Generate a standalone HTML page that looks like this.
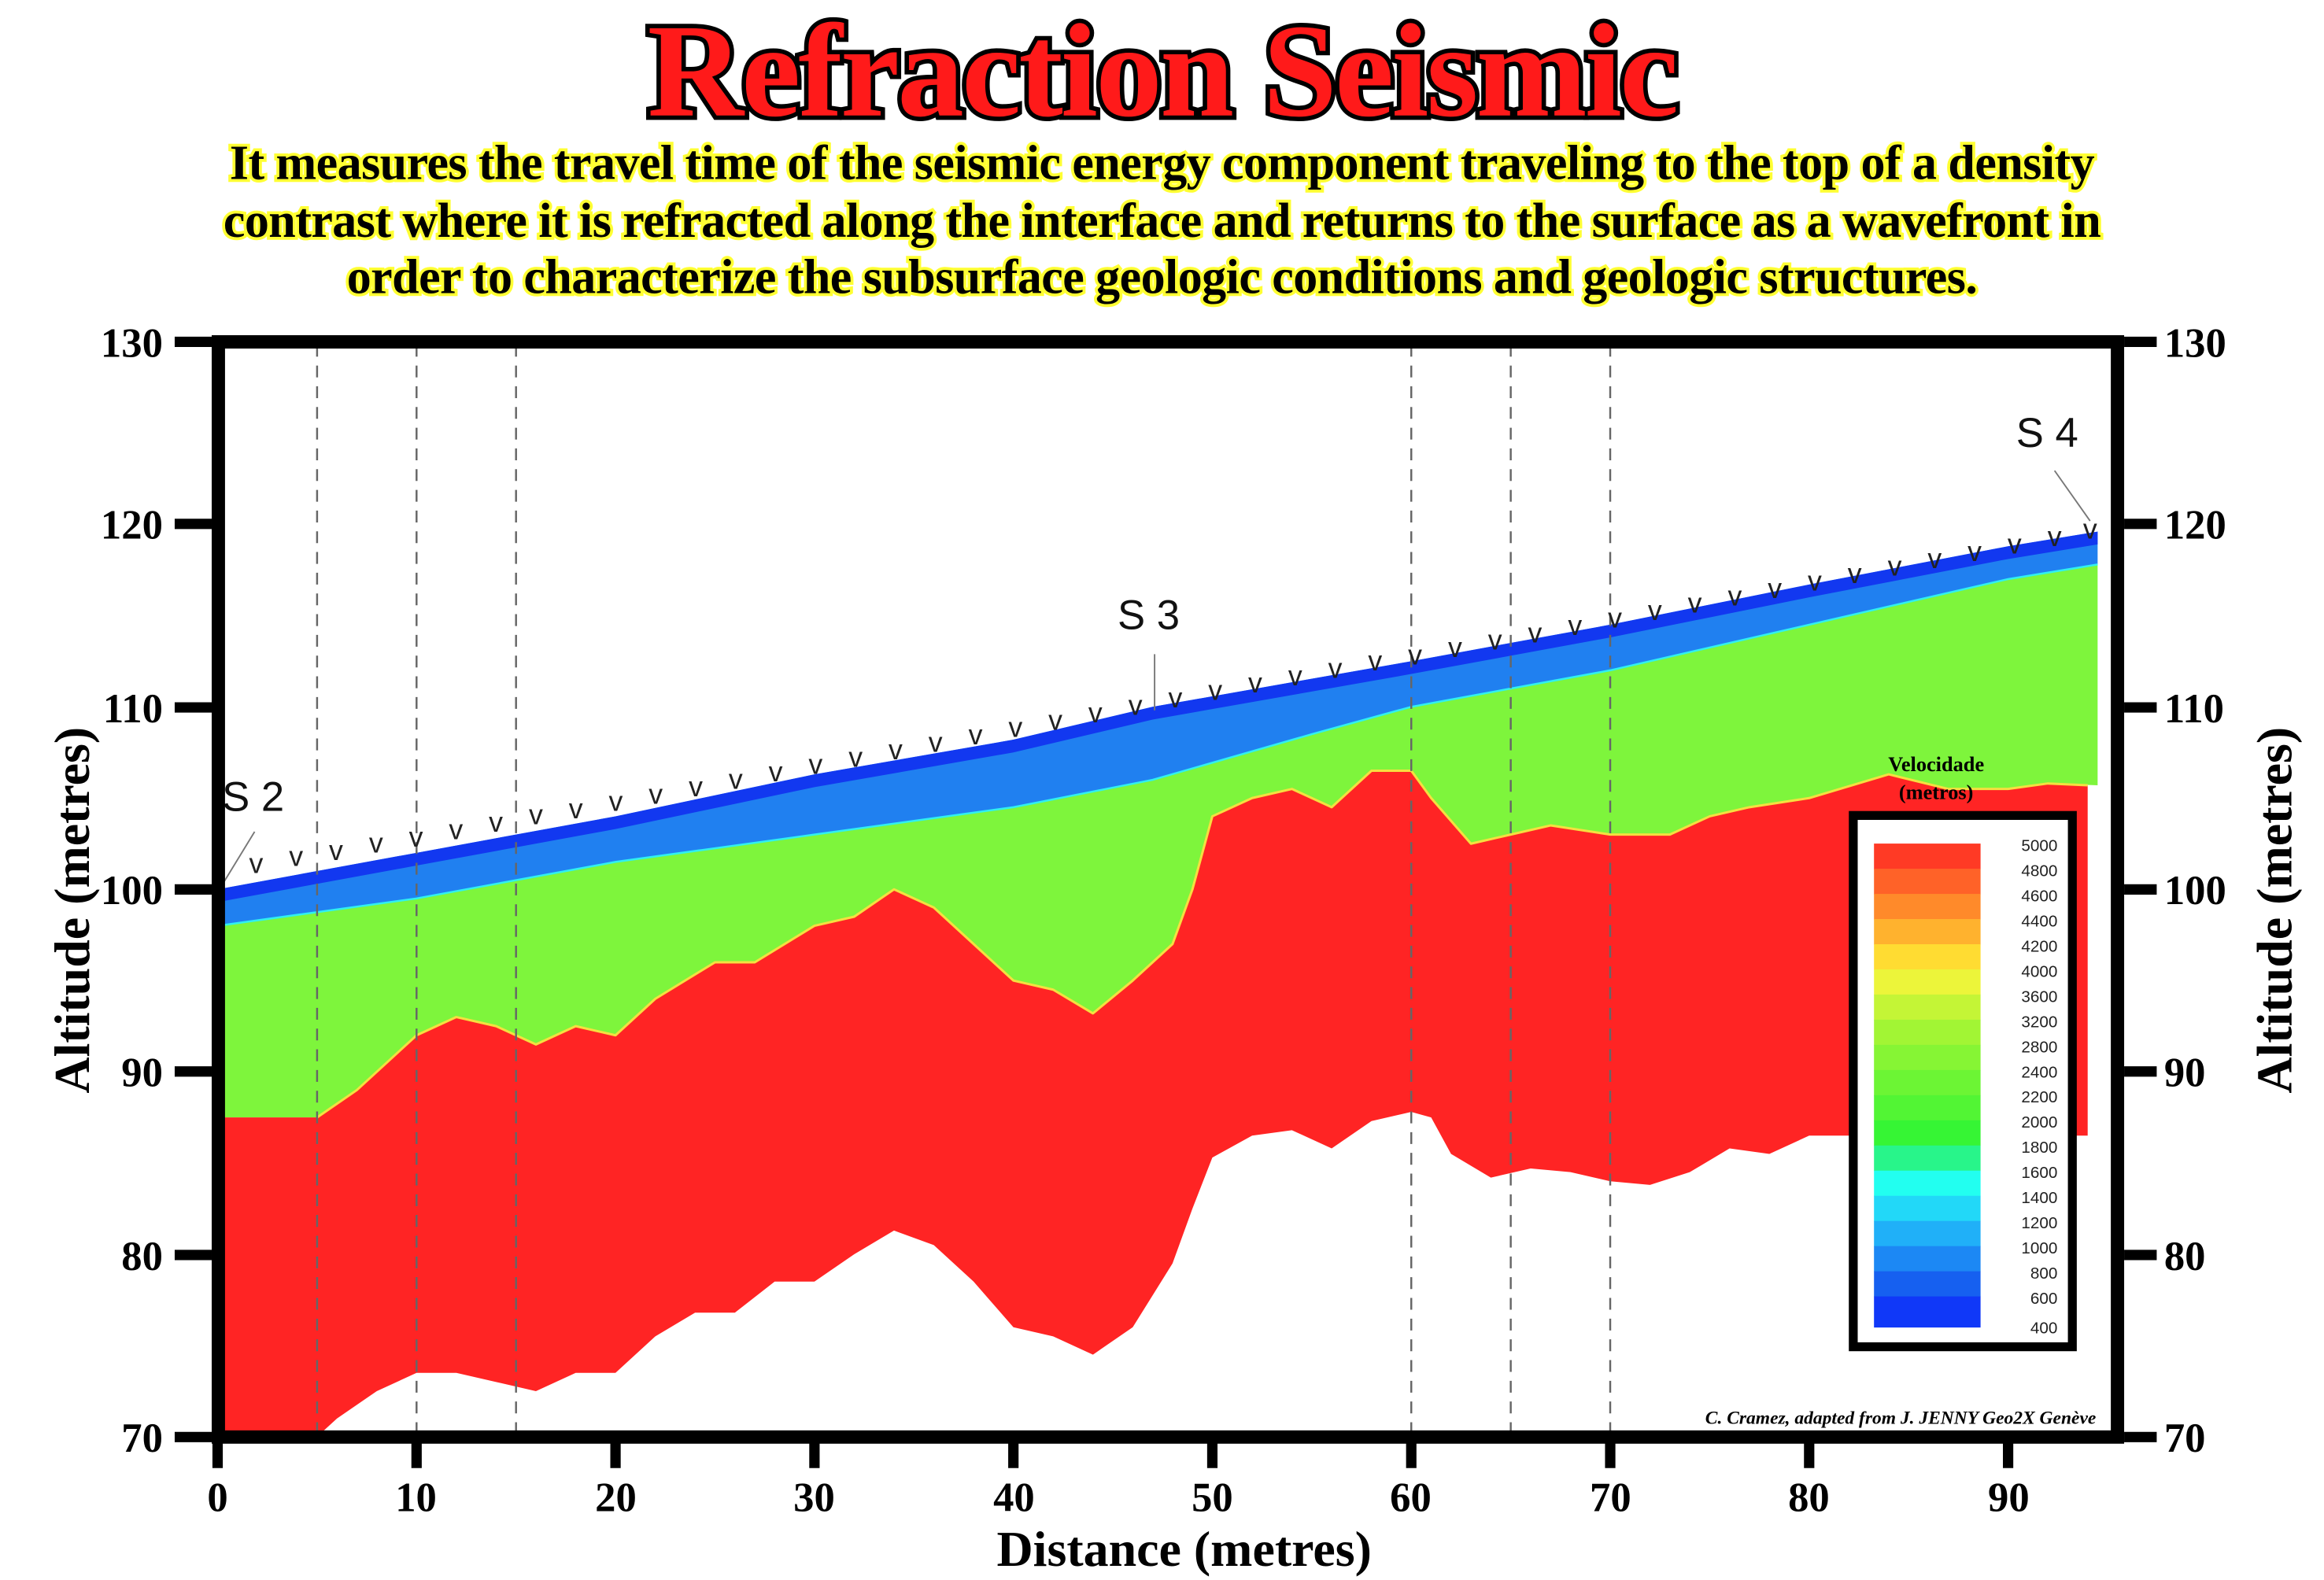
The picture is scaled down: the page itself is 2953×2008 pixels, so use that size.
<!DOCTYPE html>
<html><head><meta charset="utf-8"><style>
html,body{margin:0;padding:0;background:#fff}
svg{display:block}
</style></head><body>
<svg width="2953" height="2008" viewBox="0 0 1570 1067.6" xmlns="http://www.w3.org/2000/svg" font-family="Liberation Serif, serif">
<rect width="1570" height="1068" fill="#fff"/>
<text x="785" y="78" text-anchor="middle" font-size="90" font-weight="bold" fill="#ff1a1a" stroke="#000" stroke-width="6" paint-order="stroke" letter-spacing="-1.5">Refraction Seismic</text>
<g font-size="33" font-weight="bold" text-anchor="middle" fill="#000" stroke="#ffff33" stroke-width="4" paint-order="stroke" letter-spacing="-0.3">
<text x="785" y="121">It measures the travel time of the seismic energy component traveling to the top of a density</text>
<text x="785" y="160">contrast where it is refracted along the interface and returns to the surface as a wavefront in</text>
<text x="785" y="198">order to characterize the subsurface geologic conditions and geologic structures.</text>
</g>
<g transform="translate(147,1833.9) scale(13.44,-12.33)">
<polygon fill="#2080f0" points="0,100 10,102 20,104 30,106.3 40,108.2 47,110 60,112.5 70,114.5 80,116.7 90,118.8 94.5,119.6 94.5,117.8 90,117 80,114.5 70,112 60,110 55,108.5 47,106 40,104.5 30,103 20,101.5 10,99.5 0,98"/>
<polygon fill="#1238f0" points="0,100 10,102 20,104 30,106.3 40,108.2 47,110 60,112.5 70,114.5 80,116.7 90,118.8 94.5,119.6 94.5,118.9 90,118.1 80,116 70,113.8 60,111.8 47,109.3 40,107.5 30,105.6 20,103.3 10,101.3 0,99.3"/>
<polygon fill="#7ef53c" points="0,98 10,99.5 20,101.5 30,103 40,104.5 47,106 55,108.5 60,110 70,112 80,114.5 90,117 94.5,117.8 94.5,105.7 92,105.8 90,105.5 87,105.5 84,106.3 80,105 77,104.5 75,104 73,103 70,103 67,103.5 65,103 63,102.5 61,105 60,106.5 58,106.5 56,104.5 54,105.5 52,105 50,104 49,100 48,97 46,95 44,93.2 42,94.5 40,95 38,97 36,99 34,100 32,98.5 30,98 27,96 25,96 22,94 20,92 18,92.5 16,91.5 14,92.5 12,93 10,92 7,89 5,87.5 0,87.5"/>
<polyline fill="none" stroke="#30f0f0" stroke-width="2.5" vector-effect="non-scaling-stroke" points="0,98 10,99.5 20,101.5 30,103 40,104.5 47,106 55,108.5 60,110 70,112 80,114.5 90,117 94.5,117.8"/>
<polygon fill="#ff2424" points="0,87.5 5,87.5 7,89 10,92 12,93 14,92.5 16,91.5 18,92.5 20,92 22,94 25,96 27,96 30,98 32,98.5 34,100 36,99 38,97 40,95 42,94.5 44,93.2 46,95 48,97 49,100 50,104 52,105 54,105.5 56,104.5 58,106.5 60,106.5 61,105 63,102.5 65,103 67,103.5 70,103 73,103 75,104 77,104.5 80,105 84,106.3 87,105.5 90,105.5 92,105.8 94,105.7 94,86.5 90,86.5 84,86.5 80,86.5 78,85.5 76,85.8 74,84.5 72,83.8 70,84 68,84.5 66,84.7 64,84.2 62,85.5 61,87.5 60,87.8 58,87.3 56,85.8 54,86.8 52,86.5 50,85.3 49,82.5 48,79.5 46,76 44,74.5 42,75.5 40,76 38,78.5 36,80.5 34,81.3 32,80 30,78.5 28,78.5 26,76.8 24,76.8 22,75.5 20,73.5 18,73.5 16,72.5 14,73 12,73.5 10,73.5 8,72.5 6,71 5,70 0,70"/>
<polyline fill="none" stroke="#f5e040" stroke-width="3" vector-effect="non-scaling-stroke" stroke-linejoin="round" points="5,87.5 7,89 10,92 12,93 14,92.5 16,91.5 18,92.5 20,92 22,94 25,96 27,96 30,98 32,98.5 34,100 36,99 38,97 40,95 42,94.5 44,93.2 46,95 48,97 49,100 50,104 52,105 54,105.5 56,104.5 58,106.5 60,106.5 61,105 63,102.5 65,103 67,103.5 70,103 73,103 75,104 77,104.5 80,105 84,106.3 87,105.5 90,105.5 92,105.8 94,105.7"/>
</g>
<g stroke="#666" stroke-width="1.3" stroke-dasharray="8,6">
<line x1="214.2" y1="233" x2="214.2" y2="972"/><line x1="281.4" y1="233" x2="281.4" y2="972"/><line x1="348.6" y1="233" x2="348.6" y2="972"/>
<line x1="953.4" y1="233" x2="953.4" y2="972"/><line x1="1020.6" y1="233" x2="1020.6" y2="972"/><line x1="1087.8" y1="233" x2="1087.8" y2="972"/>
</g>
<g font-family="Liberation Sans, sans-serif" font-size="19" fill="#222" text-anchor="middle">
<text x="173" y="590">v</text><text x="200" y="585">v</text><text x="227" y="581">v</text><text x="254" y="576">v</text><text x="281" y="572">v</text><text x="308" y="567">v</text><text x="335" y="562">v</text><text x="362" y="557">v</text><text x="389" y="553">v</text><text x="416" y="548">v</text><text x="443" y="543">v</text><text x="470" y="538">v</text><text x="497" y="533">v</text><text x="524" y="528">v</text><text x="551" y="523">v</text><text x="578" y="518">v</text><text x="605" y="513">v</text><text x="632" y="508">v</text><text x="659" y="503">v</text><text x="686" y="498">v</text><text x="713" y="493">v</text><text x="740" y="488">v</text><text x="767" y="483">v</text><text x="794" y="478">v</text><text x="821" y="473">v</text><text x="848" y="468">v</text><text x="875" y="463">v</text><text x="902" y="458">v</text><text x="929" y="453">v</text><text x="956" y="449">v</text><text x="983" y="444">v</text><text x="1010" y="439">v</text><text x="1037" y="434">v</text><text x="1064" y="429">v</text><text x="1091" y="424">v</text><text x="1118" y="419">v</text><text x="1145" y="414">v</text><text x="1172" y="409">v</text><text x="1199" y="404">v</text><text x="1226" y="399">v</text><text x="1253" y="394">v</text><text x="1280" y="389">v</text><text x="1307" y="384">v</text><text x="1334" y="379">v</text><text x="1361" y="374">v</text><text x="1388" y="369">v</text><text x="1412" y="364">v</text>
</g>
<g font-family="Liberation Sans, sans-serif" font-size="28" fill="#111">
<text x="150" y="548">S 2</text><text x="755" y="425">S 3</text><text x="1362" y="302">S 4</text>
</g>
<g stroke="#777" stroke-width="1"><line x1="150" y1="598" x2="172" y2="562"/><line x1="780" y1="442" x2="780" y2="480"/><line x1="1388" y1="318" x2="1412" y2="352"/></g>
<rect x="147.5" y="231" width="1283" height="740" fill="none" stroke="#000" stroke-width="9"/>
<g stroke="#000" stroke-width="7">
<line x1="118" y1="231" x2="143" y2="231"/><line x1="118" y1="354" x2="143" y2="354"/><line x1="118" y1="478" x2="143" y2="478"/><line x1="118" y1="601" x2="143" y2="601"/><line x1="118" y1="724" x2="143" y2="724"/><line x1="118" y1="848" x2="143" y2="848"/><line x1="118" y1="971" x2="143" y2="971"/>
<line x1="1435" y1="231" x2="1457" y2="231"/><line x1="1435" y1="354" x2="1457" y2="354"/><line x1="1435" y1="478" x2="1457" y2="478"/><line x1="1435" y1="601" x2="1457" y2="601"/><line x1="1435" y1="724" x2="1457" y2="724"/><line x1="1435" y1="848" x2="1457" y2="848"/><line x1="1435" y1="971" x2="1457" y2="971"/>
<line x1="147" y1="975" x2="147" y2="992"/><line x1="281.4" y1="975" x2="281.4" y2="992"/><line x1="415.8" y1="975" x2="415.8" y2="992"/><line x1="550.2" y1="975" x2="550.2" y2="992"/><line x1="684.6" y1="975" x2="684.6" y2="992"/><line x1="819" y1="975" x2="819" y2="992"/><line x1="953.4" y1="975" x2="953.4" y2="992"/><line x1="1087.8" y1="975" x2="1087.8" y2="992"/><line x1="1222.2" y1="975" x2="1222.2" y2="992"/><line x1="1356.6" y1="975" x2="1356.6" y2="992"/>
</g>
<g font-size="28" font-weight="bold" fill="#000">
<g text-anchor="end"><text x="110" y="241">130</text><text x="110" y="364">120</text><text x="110" y="488">110</text><text x="110" y="611">100</text><text x="110" y="734">90</text><text x="110" y="858">80</text><text x="110" y="981">70</text></g>
<g><text x="1462" y="241">130</text><text x="1462" y="364">120</text><text x="1462" y="488">110</text><text x="1462" y="611">100</text><text x="1462" y="734">90</text><text x="1462" y="858">80</text><text x="1462" y="981">70</text></g>
<g text-anchor="middle"><text x="147" y="1021">0</text><text x="281" y="1021">10</text><text x="416" y="1021">20</text><text x="550" y="1021">30</text><text x="685" y="1021">40</text><text x="819" y="1021">50</text><text x="953" y="1021">60</text><text x="1088" y="1021">70</text><text x="1222" y="1021">80</text><text x="1357" y="1021">90</text></g>
</g>
<g font-size="34" font-weight="bold" fill="#000" text-anchor="middle">
<text x="800" y="1058">Distance (metres)</text>
<text transform="translate(60,615) rotate(-90)">Altitude (metres)</text>
<text transform="translate(1548,615) rotate(-90)">Altitude (metres)</text>
</g>
<g font-size="14" font-weight="bold" text-anchor="middle" fill="#000"><text x="1308" y="521">Velocidade</text><text x="1308" y="540">(metros)</text></g>
<rect x="1252" y="551" width="148" height="359" fill="#fff" stroke="#000" stroke-width="6"/>
<g>
<rect x="1266" y="570" width="72" height="17.3" fill="#ff3a25"/><rect x="1266" y="587" width="72" height="17.3" fill="#ff6228"/><rect x="1266" y="604" width="72" height="17.3" fill="#ff8a2a"/><rect x="1266" y="621" width="72" height="17.3" fill="#ffb22e"/><rect x="1266" y="638" width="72" height="17.3" fill="#ffdc32"/><rect x="1266" y="655" width="72" height="17.3" fill="#ecf53a"/><rect x="1266" y="672" width="72" height="17.3" fill="#c4f536"/><rect x="1266" y="689" width="72" height="17.3" fill="#a2f534"/><rect x="1266" y="706" width="72" height="17.3" fill="#86f534"/><rect x="1266" y="723" width="72" height="17.3" fill="#6cf534"/><rect x="1266" y="740" width="72" height="17.3" fill="#52f534"/><rect x="1266" y="757" width="72" height="17.3" fill="#36f534"/><rect x="1266" y="774" width="72" height="17.3" fill="#28f58a"/><rect x="1266" y="791" width="72" height="17.3" fill="#22fff0"/><rect x="1266" y="808" width="72" height="17.3" fill="#22d8f8"/><rect x="1266" y="825" width="72" height="17.3" fill="#20b0f8"/><rect x="1266" y="842" width="72" height="17.3" fill="#1c88f4"/><rect x="1266" y="859" width="72" height="17.3" fill="#1660f0"/><rect x="1266" y="876" width="72" height="21" fill="#1038f8"/>
</g>
<g font-family="Liberation Sans, sans-serif" font-size="11" fill="#222" text-anchor="end">
<text x="1390" y="575">5000</text><text x="1390" y="592">4800</text><text x="1390" y="609">4600</text><text x="1390" y="626">4400</text><text x="1390" y="643">4200</text><text x="1390" y="660">4000</text><text x="1390" y="677">3600</text><text x="1390" y="694">3200</text><text x="1390" y="711">2800</text><text x="1390" y="728">2400</text><text x="1390" y="745">2200</text><text x="1390" y="762">2000</text><text x="1390" y="779">1800</text><text x="1390" y="796">1600</text><text x="1390" y="813">1400</text><text x="1390" y="830">1200</text><text x="1390" y="847">1000</text><text x="1390" y="864">800</text><text x="1390" y="881">600</text><text x="1390" y="901">400</text>
</g>
<text x="1416" y="962" text-anchor="end" font-size="12.5" font-style="italic" font-weight="bold" fill="#000">C. Cramez, adapted from J. JENNY Geo2X Genève</text>
</svg>
</body></html>
